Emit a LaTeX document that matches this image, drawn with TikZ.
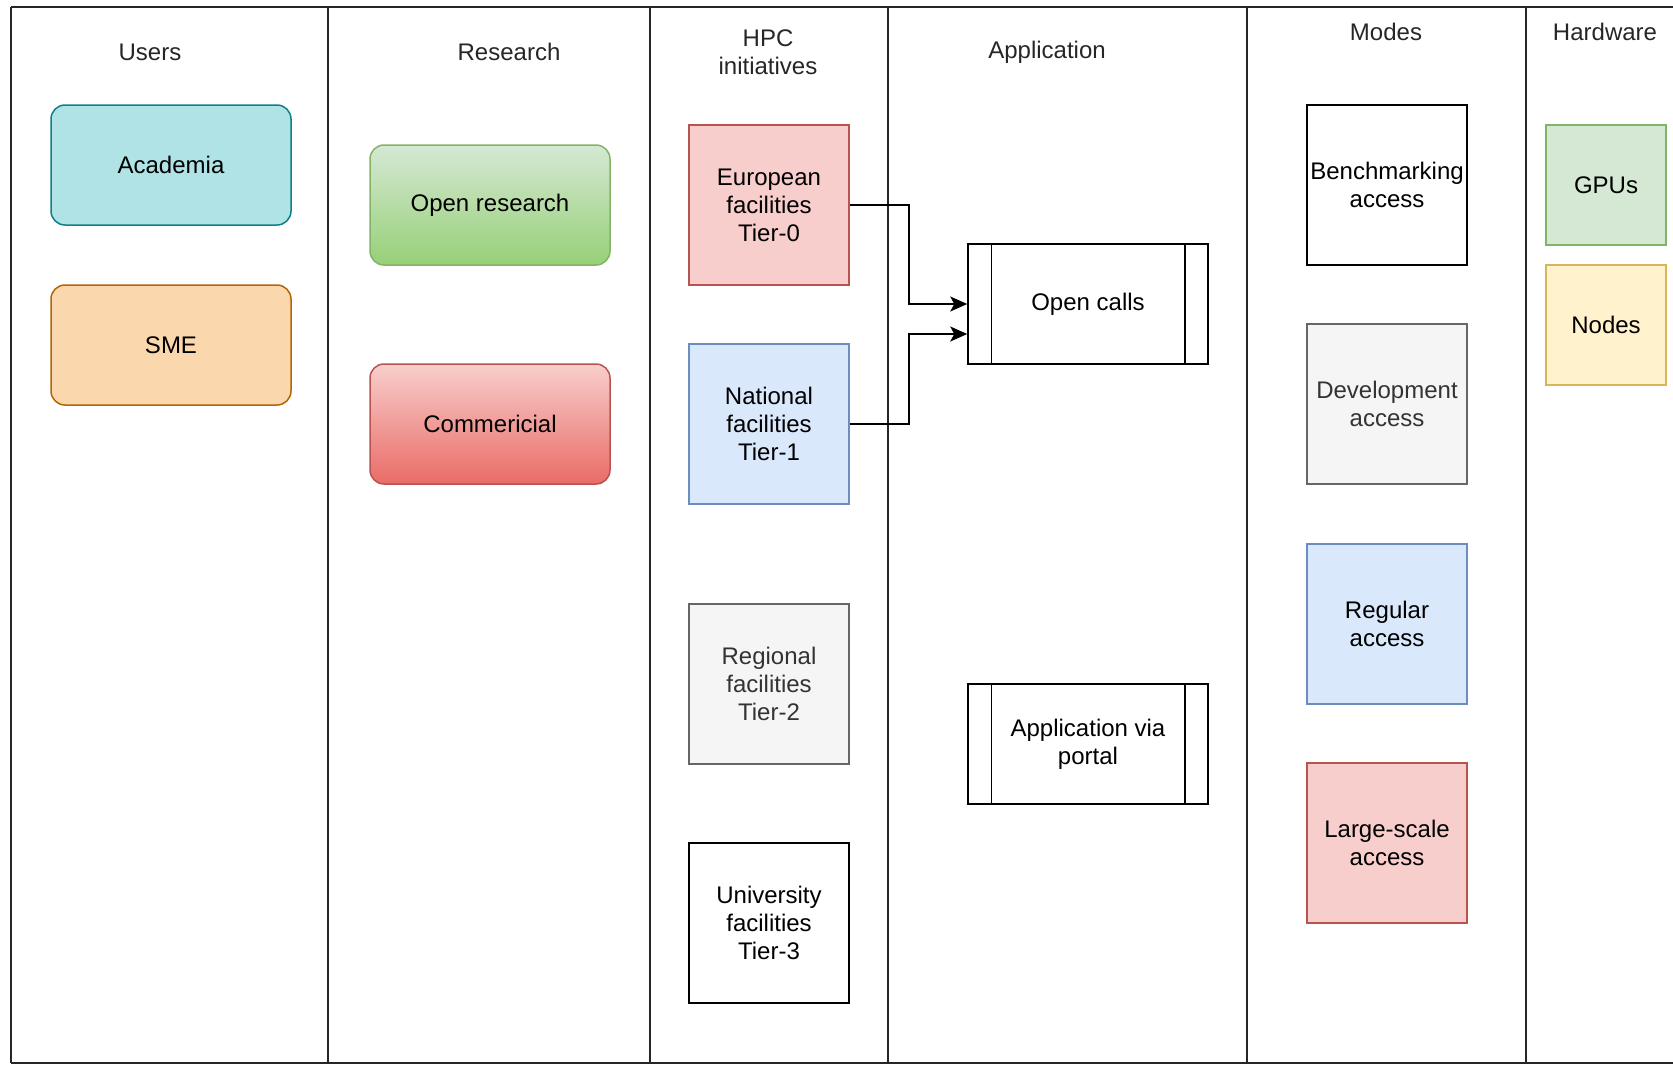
\documentclass[tikz,border=0pt]{standalone}
\usepackage{fontspec}
\setmainfont{Liberation Sans}
\usetikzlibrary{arrows.meta}

\definecolor{tealfill}{HTML}{B0E3E6}
\definecolor{tealline}{HTML}{0E8088}
\definecolor{orangefill}{HTML}{FAD7AC}
\definecolor{orangeline}{HTML}{B46504}
\definecolor{greenfill}{HTML}{D5E8D4}
\definecolor{greendark}{HTML}{97D077}
\definecolor{greenline}{HTML}{82B366}
\definecolor{redfill}{HTML}{F8CECC}
\definecolor{reddark}{HTML}{EA6B66}
\definecolor{redline}{HTML}{B85450}
\definecolor{bluefill}{HTML}{DAE8FC}
\definecolor{blueline}{HTML}{6C8EBF}
\definecolor{greyfill}{HTML}{F5F5F5}
\definecolor{greyline}{HTML}{666666}
\definecolor{greytext}{HTML}{333333}
\definecolor{yellowfill}{HTML}{FFF2CC}
\definecolor{yellowline}{HTML}{D6B656}

\tikzset{
    frame/.style={line width=1.6pt, draw=black!85},
    header/.style={text=black!85, align=center},
    rbox/.style={draw, line width=1.5pt, rounded corners=14pt, minimum width=240pt, minimum height=120pt, align=center},
    sbox/.style={draw, line width=1.5pt, minimum width=160pt, minimum height=160pt, align=center, inner sep=1pt},
    hwbox/.style={draw, line width=1.5pt, minimum width=120pt, minimum height=120pt, align=center},
    procbox/.style={draw, line width=1.5pt, minimum width=240pt, minimum height=120pt, align=center},
    link/.style={line width=1.5pt, -{Stealth[length=17pt,width=15pt,inset=4pt]}}
}

\begin{document}
\begin{tikzpicture}[x=1pt, y=-1pt, font=\fontsize{24}{28}\selectfont]
        \useasboundingbox (0,0) rectangle (1673,1069);

        % Draw the lanes
        \draw[frame] (11,7) -- (1673,7);
        \draw[frame] (11,1063) -- (1673,1063);
        \draw[frame] (11,7) -- (11,1063);
        \foreach \lx in {328,650,888,1247,1526}
            \draw[frame] (\lx,7) -- (\lx,1063);

        % Lane titles
        \node[header] (tusers) at (150,52) {Users};
        \node[header] (tresearch) at (509,52) {Research};
        \node[header] (thpc) at (768,52) {HPC\\initiatives};
        \node[header] (tapp) at (1047,52) {Application};
        \node[header] (tmodes) at (1386,32) {Modes};
        \node[header] (thw) at (1605,32) {Hardware};

        % Users
        \node[rbox, fill=tealfill, draw=tealline] (acad) at (171,165) {Academia};
        \node[rbox, fill=orangefill, draw=orangeline] (sme) at (171,345) {SME};

        % Research
        \node[rbox, top color=greenfill, bottom color=greendark, draw=greenline] (openres) at (490,205) {Open research};
        \node[rbox, top color=redfill, bottom color=reddark, draw=redline] (comm) at (490,424) {Commericial};

        % HPC initiatives
        \node[sbox, fill=redfill, draw=redline] (eu) at (769,205) {European\\facilities\\Tier-0};
        \node[sbox, fill=bluefill, draw=blueline] (nat) at (769,424) {National\\facilities\\Tier-1};
        \node[sbox, fill=greyfill, draw=greyline, text=greytext] (reg) at (769,684) {Regional\\facilities\\Tier-2};
        \node[sbox] (uni) at (769,923) {University\\facilities\\Tier-3};

        % Application
        \node[procbox] (oc) at (1088,304) {Open calls};
        \draw[line width=1.5pt] ([xshift=24pt]oc.north west) -- ([xshift=24pt]oc.south west);
        \draw[line width=1.5pt] ([xshift=-24pt]oc.north east) -- ([xshift=-24pt]oc.south east);
        \node[procbox] (portal) at (1088,744) {Application via\\portal};
        \draw[line width=1.5pt] ([xshift=24pt]portal.north west) -- ([xshift=24pt]portal.south west);
        \draw[line width=1.5pt] ([xshift=-24pt]portal.north east) -- ([xshift=-24pt]portal.south east);

        % Modes
        \node[sbox] (bench) at (1387,185) {Benchmarking\\access};
        \node[sbox, fill=greyfill, draw=greyline, text=greytext] (dev) at (1387,404) {Development\\access};
        \node[sbox, fill=bluefill, draw=blueline] (regular) at (1387,624) {Regular\\access};
        \node[sbox, fill=redfill, draw=redline] (large) at (1387,843) {Large-scale\\access};

        % Hardware
        \node[hwbox, fill=greenfill, draw=greenline] (gpu) at (1606,185) {GPUs};
        \node[hwbox, fill=yellowfill, draw=yellowline] (hwnodes) at (1606,325) {Nodes};

        % Tier-0 and Tier-1 go to the open calls
        \draw[link] (eu.east) -- ++(59,0) |- (oc.west);
        \draw[link] (nat.east) -- ++(59,0) |- ([yshift=-30pt]oc.west);

    \end{tikzpicture}
\end{document}
